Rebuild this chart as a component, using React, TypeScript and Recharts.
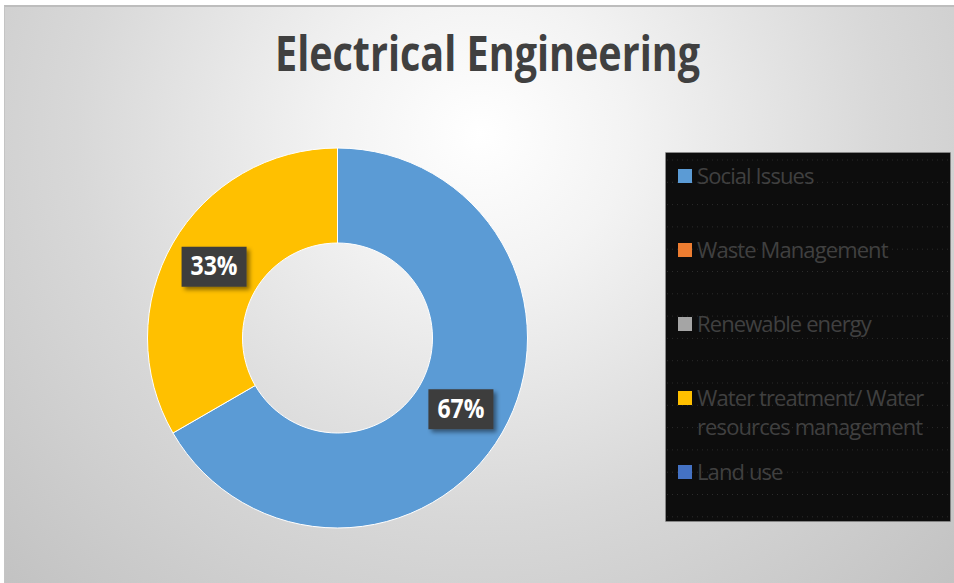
import React from "react";
import { PieChart, Pie, Cell, Legend } from "recharts";

const categories = [
  "Social Issues",
  "Waste Management",
  "Renewable energy",
  "Water treatment/ Water resources management",
  "Land use",
];
const values = [2, 0, 0, 1, 0];
const colors = ["#5B9BD5", "#ED7D31", "#A5A5A5", "#FFC000", "#4472C4"];

const data = categories.map((name, i) => ({ name, value: values[i] }));

const RADIAN = Math.PI / 180;

// greedy word wrap, Excel breaks the long entry in two lines
const wrap = (text: string, maxChars: number) => {
  const lines: string[] = [];
  let cur = "";
  text.split(" ").forEach((w) => {
    const next = cur ? cur + " " + w : w;
    if (next.length > maxChars && cur) {
      lines.push(cur);
      cur = w;
    } else cur = next;
  });
  if (cur) lines.push(cur);
  return lines;
};

const renderLabel = (props: any) => {
  const { cx, cy, midAngle, innerRadius, outerRadius, percent } = props;
  if (!percent) return null;
  const r = (innerRadius + outerRadius) / 2;
  const x = cx + r * Math.cos(-midAngle * RADIAN);
  const y = cy + r * Math.sin(-midAngle * RADIAN);
  return (
    <g>
      <rect
        x={x - 32.5}
        y={y - 20}
        width={65}
        height={40}
        fill="#3c3c3c"
        filter="url(#lblShadow)"
      />
      <text
        x={x}
        y={y + 8.5}
        textAnchor="middle"
        fill="#ffffff"
        fontFamily="'Open Sans', sans-serif"
        fontWeight={700}
        fontSize={26}
        textLength={47}
        lengthAdjust="spacingAndGlyphs"
      >
        {`${Math.round(percent * 100)}%`}
      </text>
    </g>
  );
};

const renderLegend = () => {
  const w = 286;
  const h = 370;
  const dotted = [];
  for (let y = 8; y < h; y += 22.3) dotted.push(y);
  return (
    <svg width={w} height={h} style={{ display: "block" }}>
      <rect x={0.5} y={0.5} width={w - 1} height={h - 1} fill="#0d0d0d" stroke="#9a9a9a" strokeDasharray="1 1" />
      {dotted.map((y) => (
        <line key={y} x1={2} x2={w - 2} y1={y} y2={y} stroke="#2b2b2b" strokeDasharray="1 4" />
      ))}
      {categories.map((name, i) => {
        const cy = 24 + i * 74;
        const lines = wrap(name, 23);
        return (
          <g key={name}>
            <rect x={13} y={cy - 7} width={14} height={14} fill={colors[i]} />
            {lines.map((ln, j) => (
              <text
                key={ln}
                x={32}
                y={cy + 8 + j * 29}
                fill="#404040"
                fontFamily="'Open Sans', sans-serif"
                fontSize={22}
                letterSpacing={-0.9}
              >
                {ln}
              </text>
            ))}
          </g>
        );
      })}
    </svg>
  );
};

export default function App() {
  return (
    <div style={{ position: "absolute", left: 0, top: 0, width: 954, height: 583, background: "#ffffff", overflow: "hidden" }}>
      <div
        style={{
          position: "absolute",
          left: 4,
          top: 5,
          width: 952,
          height: 580,
          boxSizing: "border-box",
          borderTop: "2px solid #bdbdbd",
          borderLeft: "1px solid #c4c4c4",
          background:
            "radial-gradient(ellipse farthest-corner at 50% 22%, #ffffff 0%, #f3f3f3 22%, #d8d8d8 60%, #c2c2c2 100%)",
        }}
      />
      <svg width={954} height={100} style={{ position: "absolute", left: 0, top: 0 }}>
        <text
          x={487.5}
          y={71}
          textAnchor="middle"
          fill="#404040"
          fontFamily="'Open Sans', sans-serif"
          fontWeight={700}
          fontSize={48}
          textLength={425}
          lengthAdjust="spacingAndGlyphs"
        >
          Electrical Engineering
        </text>
      </svg>
      <div style={{ position: "absolute", left: 0, top: 0 }}>
        <PieChart width={954} height={583} margin={{ top: 0, right: 0, bottom: 0, left: 0 }}>
          <defs>
            <filter id="lblShadow" x="-30%" y="-30%" width="160%" height="180%">
              <feDropShadow dx={3} dy={3} stdDeviation={2} floodColor="#000" floodOpacity={0.45} />
            </filter>
          </defs>
          <Pie
            data={data}
            dataKey="value"
            nameKey="name"
            cx={337.5}
            cy={338}
            innerRadius={95}
            outerRadius={190}
            startAngle={90}
            endAngle={-270}
            stroke="#ffffff"
            strokeWidth={1}
            label={renderLabel}
            labelLine={false}
            isAnimationActive={false}
          >
            {data.map((d, i) => (
              <Cell key={d.name} fill={colors[i]} />
            ))}
          </Pie>
          <Legend
            content={renderLegend}
            wrapperStyle={{ position: "absolute", left: 665, top: 152, width: 286, height: 370 }}
          />
        </PieChart>
      </div>
    </div>
  );
}
